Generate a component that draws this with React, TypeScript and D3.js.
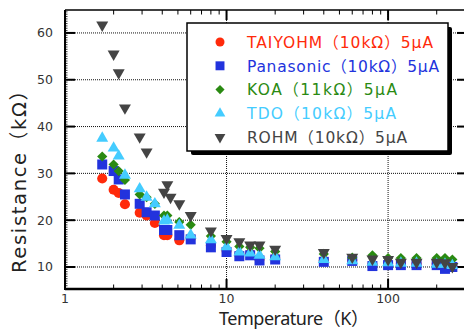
import { useRef, useEffect } from "react";
import * as d3 from "d3";

// temperature points (K), shared by all series; null = no point
const temperatures = [1.7, 2.0, 2.15, 2.35, 2.9, 3.2, 3.6, 4.1, 4.3, 4.5, 5.1, 6, 8, 10, 12, 14, 16, 20, 40, 60, 80, 100, 120, 150, 200, 225, 250];

const taiyohm = [28.9, 26.5, 25.8, 23.4, 21.6, 21.0, 19.4, 16.8, 16.8, null, 15.7, 16.2, 14.6, 13.5, 12.6, 12.8, 11.7, 11.9, 11.4, 11.5, 10.5, 10.7, 10.7, 10.7, 10.7, 9.9, 10.2];
const panasonic = [31.9, 30.5, 28.7, 25.5, 23.5, 21.7, 21.0, 17.9, 17.9, null, 16.8, 15.9, 14.2, 13.2, 12.3, 12.5, 11.4, 11.6, 11.1, 11.3, 10.2, 10.4, 10.4, 10.4, 10.4, 9.6, 10.0];
const koa = [33.6, 31.9, 30.5, 28.6, 25.5, 24.9, 23.5, 21.0, 21.0, null, 19.6, 19.0, 16.6, 15.4, 14.4, 14.2, 14.0, 13.3, 12.8, 12.0, 12.5, 11.9, 11.9, 11.9, 11.9, 11.9, 11.6];
const tdo = [37.5, 35.4, 33.7, 29.6, 26.7, 24.9, 23.5, 19.8, 20.0, null, 18.9, 16.8, 15.8, 14.3, 13.2, 13.0, 12.5, 12.2, 11.6, 11.3, 11.0, 10.9, 10.8, 10.8, 10.6, 10.6, 10.3];
const rohm = [61.7, 55.5, 51.5, 44.0, 37.8, 34.6, null, 26.0, 27.6, 24.9, 23.5, 21.0, 17.7, 16.1, 15.4, 14.7, 14.7, 13.8, 13.1, 12.1, 11.7, 11.6, 11.0, 11.0, 11.0, 10.9, 10.1];

const seriesLabels = ["TAIYOHM（10kΩ）5μA", "Panasonic（10kΩ）5μA", "KOA（11kΩ）5μA", "TDO（10kΩ）5μA", "ROHM（10kΩ）5μA"];
const seriesColors = ["#ff2a0a", "#2233dd", "#2a8a12", "#44ccff", "#444444"];
const seriesShapes = ["circle", "square", "diamond", "up", "down"];
const labelWidths = [186, 192, 150, 149, 160];

const yTicks = [10, 20, 30, 40, 50, 60];
const xTicks = [1, 10, 100];

const FONT = "'DejaVu Sans', 'Noto Sans CJK JP', sans-serif";
const TITLE_FONT = "'Noto Sans', 'Noto Sans CJK JP', sans-serif";

const App = () => {
	const svgRef = useRef<SVGSVGElement>(null);

	useEffect(() => {
		const svg = d3.select(svgRef.current);
		svg.selectAll("*").remove();

		const left = 65, right = 467, top = 10, bottom = 289;
		const x = d3.scaleLog().domain([1, 308]).range([left, right]);
		const y = d3.scaleLinear().domain([5.3, 64.9]).range([bottom, top]);

		const symbolPath = (shape: string, big: boolean) => {
			const k = big ? 1 : 0.8;
			if (shape === "circle") return d3.symbol().type(d3.symbolCircle).size(80 * k)();
			if (shape === "square") return d3.symbol().type(d3.symbolSquare).size(100 * k)();
			if (shape === "diamond") return d3.symbol().type(d3.symbolSquare).size(52 * k)();
			return d3.symbol().type(d3.symbolTriangle).size(62 * k)();
		};
		const rot = (shape: string) => (shape === "diamond" ? 45 : shape === "down" ? 180 : 0);

		const g = svg.append("g");

		// grid lines (dotted)
		g.selectAll(".hgrid")
			.data(yTicks)
			.enter()
			.append("line")
			.attr("x1", left).attr("x2", right)
			.attr("y1", (d) => y(d)).attr("y2", (d) => y(d))
			.attr("stroke", "#111").attr("stroke-width", 1).attr("stroke-dasharray", "1,1");
		g.selectAll(".vgrid")
			.data(xTicks.slice(1))
			.enter()
			.append("line")
			.attr("x1", (d) => x(d)).attr("x2", (d) => x(d))
			.attr("y1", top).attr("y2", bottom)
			.attr("stroke", "#111").attr("stroke-width", 1).attr("stroke-dasharray", "1,1");

		// y minor ticks
		const yMinor = d3.range(6, 65, 0.5);
		g.selectAll(".ymin")
			.data(yMinor)
			.enter()
			.append("line")
			.attr("x1", left).attr("x2", left + 2.5)
			.attr("y1", (d) => y(d)).attr("y2", (d) => y(d))
			.attr("stroke", "#000").attr("stroke-width", 0.8);

		// y major ticks, both sides
		yTicks.forEach((t) => {
			g.append("line").attr("x1", left).attr("x2", left + 10).attr("y1", y(t)).attr("y2", y(t))
				.attr("stroke", "#000").attr("stroke-width", 2);
			g.append("line").attr("x1", right - 10).attr("x2", right).attr("y1", y(t)).attr("y2", y(t))
				.attr("stroke", "#000").attr("stroke-width", 2);
		});

		// x minor ticks
		const xMinor: number[] = [];
		[1, 10, 100].forEach((p) => d3.range(2, 10).forEach((m) => { if (p * m < 308) xMinor.push(p * m); }));
		xMinor.forEach((t) => {
			g.append("line").attr("x1", x(t)).attr("x2", x(t)).attr("y1", bottom).attr("y2", bottom - 4.5)
				.attr("stroke", "#000").attr("stroke-width", 1);
			g.append("line").attr("x1", x(t)).attr("x2", x(t)).attr("y1", top).attr("y2", top + 4.5)
				.attr("stroke", "#000").attr("stroke-width", 1);
		});
		xTicks.slice(1).forEach((t) => {
			g.append("line").attr("x1", x(t)).attr("x2", x(t)).attr("y1", bottom).attr("y2", bottom - 10)
				.attr("stroke", "#000").attr("stroke-width", 2);
			g.append("line").attr("x1", x(t)).attr("x2", x(t)).attr("y1", top).attr("y2", top + 10)
				.attr("stroke", "#000").attr("stroke-width", 2);
		});

		// frame
		g.append("line").attr("x1", left).attr("x2", left).attr("y1", top).attr("y2", bottom + 1)
			.attr("stroke", "#000").attr("stroke-width", 2);
		g.append("line").attr("x1", left).attr("x2", right).attr("y1", bottom).attr("y2", bottom)
			.attr("stroke", "#000").attr("stroke-width", 2.5);
		g.append("line").attr("x1", left).attr("x2", right).attr("y1", top).attr("y2", top)
			.attr("stroke", "#000").attr("stroke-width", 1.5);
		g.append("line").attr("x1", right).attr("x2", right).attr("y1", top).attr("y2", bottom)
			.attr("stroke", "#000").attr("stroke-width", 2);

		// tick labels
		g.selectAll(".ylab")
			.data(yTicks)
			.enter()
			.append("text")
			.attr("x", 53).attr("y", (d) => y(d)).attr("dy", "0.36em")
			.attr("text-anchor", "end")
			.style("font-family", FONT).style("font-size", "12.5px").attr("fill", "#333")
			.text((d) => d);
		g.selectAll(".xlab")
			.data(xTicks)
			.enter()
			.append("text")
			.attr("x", (d) => x(d)).attr("y", 303)
			.attr("text-anchor", "middle")
			.style("font-family", FONT).style("font-size", "12.5px").attr("fill", "#333")
			.text((d) => d);

		// axis titles
		g.append("text")
			.attr("x", 219).attr("y", 325)
			.attr("textLength", 150).attr("lengthAdjust", "spacing")
			.style("font-family", TITLE_FONT).style("font-size", "18px").attr("fill", "#222")
			.text("Temperature（K）");
		g.append("text")
			.attr("transform", "translate(26,273) rotate(-90)")
			.attr("textLength", 192).attr("lengthAdjust", "spacing")
			.style("font-family", FONT).style("font-size", "19.5px").attr("fill", "#222")
			.text("Resistance（kΩ）");

		// data markers
		const allSeries = [taiyohm, panasonic, koa, tdo, rohm];
		allSeries.forEach((vals, si) => {
			const pts = temperatures
				.map((t, i) => ({ t, v: vals[i] }))
				.filter((p) => p.v !== null) as { t: number; v: number }[];
			g.append("g")
				.selectAll("path")
				.data(pts)
				.enter()
				.append("path")
				.attr("d", symbolPath(seriesShapes[si], true))
				.attr("transform", (p) => `translate(${x(p.t)},${y(p.v)}) rotate(${rot(seriesShapes[si])})`)
				.attr("fill", seriesColors[si]);
		});

		// legend
		const lx = 187, ly = 23, lw = 261, lh = 128;
		const legend = svg.append("g");
		legend.append("rect").attr("x", lx + 4).attr("y", ly + 4).attr("width", lw).attr("height", lh)
			.attr("rx", 2).attr("fill", "#000");
		legend.append("rect").attr("x", lx).attr("y", ly).attr("width", lw).attr("height", lh)
			.attr("fill", "#fff").attr("stroke", "#000").attr("stroke-width", 1.5);
		seriesLabels.forEach((label, i) => {
			const ry = 42 + i * 23.8;
			legend.append("path")
				.attr("d", symbolPath(seriesShapes[i], false))
				.attr("transform", `translate(220,${ry}) rotate(${rot(seriesShapes[i])})`)
				.attr("fill", seriesColors[i]);
			legend.append("text")
				.attr("x", 247).attr("y", ry).attr("dy", "0.38em")
				.attr("textLength", labelWidths[i]).attr("lengthAdjust", "spacing")
				.style("font-family", FONT).style("font-size", "15.5px")
				.attr("fill", seriesColors[i])
				.text(label);
		});
	}, []);

	return (
		<svg
			ref={svgRef}
			width={464}
			height={330}
			style={{ position: "absolute", left: 0, top: 0, background: "#fff" }}
		></svg>
	);
};

export default App;
